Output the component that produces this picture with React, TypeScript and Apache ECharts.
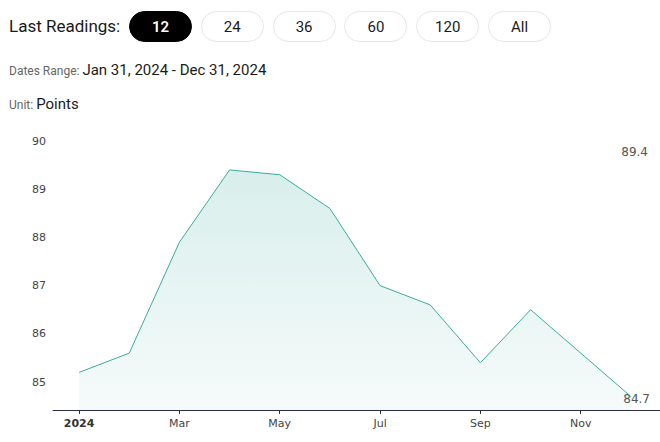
import React, { useEffect, useRef } from "react";
import * as echarts from "echarts";

const months = ["Jan", "Feb", "Mar", "Apr", "May", "Jun", "Jul", "Aug", "Sep", "Oct", "Nov", "Dec"];
const values = [85.2, 85.6, 87.9, 89.4, 89.3, 88.6, 87.0, 86.6, 85.4, 86.5, 85.6, 84.7];
const tickPositions = [0, 2, 4, 6, 8, 10];
const tickLabels = ["2024", "Mar", "May", "Jul", "Sep", "Nov"];
const yTicks = [85, 86, 87, 88, 89, 90];
const buttons = ["12", "24", "36", "60", "120", "All"];
const dateRange = "Jan 31, 2024 - Dec 31, 2024";
const unit = "Points";

const FONT = "Roboto, 'Noto Sans', sans-serif";

export default function App() {
  const ref = useRef<HTMLDivElement>(null);

  useEffect(() => {
    document.body.style.margin = "0";
    if (!ref.current) return;
    const chart = echarts.init(ref.current, null, { renderer: "svg" });
    const maxV = Math.max(...values);
    const lastV = values[values.length - 1];
    chart.setOption({
      animation: false,
      grid: { left: 53, right: 0, top: 141, bottom: 32, containLabel: false },
      xAxis: {
        type: "value",
        min: -0.52,
        max: 11.58,
        splitLine: { show: false },
        axisLine: { show: true, lineStyle: { color: "#2b2d42", width: 1 } },
        axisTick: { show: true, customValues: tickPositions, length: 4, lineStyle: { color: "#2b2d42" } },
        axisLabel: {
          customValues: tickPositions,
          color: "#444",
          fontSize: 11,
          fontFamily: "'DejaVu Sans', sans-serif",
          margin: 8,
          formatter: (v: number) => {
            const i = tickPositions.indexOf(Math.round(v));
            const t = i >= 0 ? tickLabels[i] : "";
            return i === 0 ? "{b|" + t + "}" : t;
          },
          rich: { b: { fontWeight: "bold", color: "#333", fontSize: 11, fontFamily: "'DejaVu Sans', sans-serif" } },
        },
      },
      yAxis: {
        type: "value",
        min: 84.42,
        max: 90,
        splitLine: { show: false },
        axisLine: { show: false },
        axisTick: { show: false },
        axisLabel: {
          customValues: yTicks,
          color: "#444",
          fontSize: 11,
          fontFamily: "'DejaVu Sans', sans-serif",
          margin: 7,
        },
      },
      series: [
        {
          type: "line",
          data: values.map((v, i) => [i, v]),
          name: "Readings",
          showSymbol: false,
          symbol: "none",
          lineStyle: { color: "#3aab9d", width: 1 },
          areaStyle: {
            color: new echarts.graphic.LinearGradient(0, 0, 0, 1, [
              { offset: 0, color: "rgba(58,171,157,0.28)" },
              { offset: 1, color: "rgba(58,171,157,0.07)" },
            ]),
          },
        },
      ],
      graphic: [
        {
          type: "text",
          right: 12,
          top: 146,
          style: { text: maxV.toFixed(1), fill: "#555", fontSize: 12, fontFamily: "'DejaVu Sans', sans-serif" },
        },
        {
          type: "text",
          right: 10,
          top: 393,
          style: { text: lastV.toFixed(1), fill: "#555", fontSize: 12, fontFamily: "'DejaVu Sans', sans-serif" },
        },
      ],
    });
    return () => chart.dispose();
  }, []);

  return (
    <div style={{ position: "relative", width: 660, height: 442, fontFamily: FONT, background: "#fff", overflow: "hidden" }}>
      <div ref={ref} style={{ position: "absolute", left: 0, top: 0, width: 660, height: 442 }} />
      <div style={{ position: "absolute", left: 9, top: 16, fontSize: 17, color: "#1a1a1a" }}>Last Readings:</div>
      {buttons.map((b, i) => (
        <div
          key={b}
          style={{
            position: "absolute",
            left: 129 + i * 71.8,
            top: 11,
            width: 63,
            height: 31,
            boxSizing: "border-box",
            borderRadius: 16,
            border: i === 0 ? "1px solid #000" : "1px solid #e6e6e6",
            background: i === 0 ? "#000" : "#fff",
            color: i === 0 ? "#fff" : "#1a1a1a",
            fontWeight: i === 0 ? 600 : 400,
            fontSize: 15,
            display: "flex",
            alignItems: "center",
            justifyContent: "center",
          }}
        >
          {b}
        </div>
      ))}
      <div style={{ position: "absolute", left: 9, top: 61, color: "#1a1a1a", fontSize: 15, whiteSpace: "nowrap" }}>
        <span style={{ fontSize: 12, color: "#666" }}>Dates Range: </span>
        {dateRange}
      </div>
      <div style={{ position: "absolute", left: 9, top: 95, color: "#1a1a1a", fontSize: 15, whiteSpace: "nowrap" }}>
        <span style={{ fontSize: 12, color: "#666" }}>Unit: </span>
        {unit}
      </div>
    </div>
  );
}
